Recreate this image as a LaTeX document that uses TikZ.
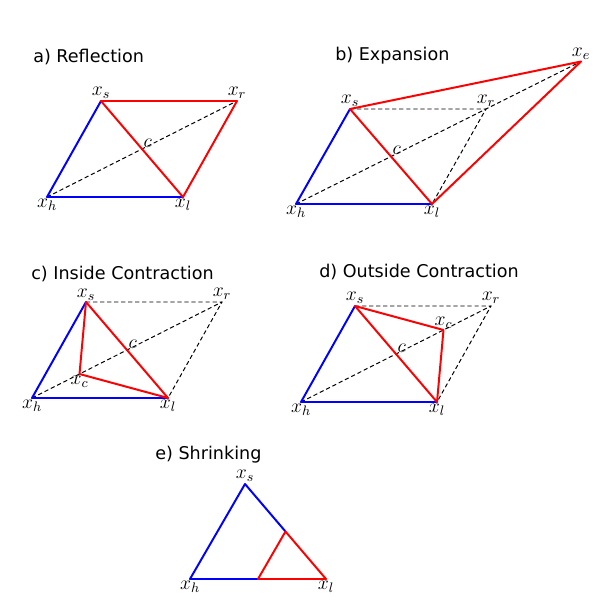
\RequirePackage{fix-cm}
\documentclass[tikz,border=0pt]{standalone}
\usepackage{fontspec}
\newfontfamily\titlefont{DejaVu Sans}
\usepackage{tikz}
\usetikzlibrary{calc}
\tikzstyle{simplex} = [draw=blue, line width=1.4pt, line cap=round, line join=round]
\tikzstyle{trial} = [draw=red, line width=1.4pt, line cap=round, line join=round]
\tikzstyle{aux} = [draw=black, line width=0.7pt, dash pattern=on 3pt off 2pt]
\tikzstyle{pt} = [inner sep=1.5pt, font={\fontsize{14}{16}\selectfont}]
\tikzstyle{caption} = [anchor=west, inner sep=0pt, font={\titlefont\fontsize{12.5}{15}\selectfont}]

\begin{document}
\begin{tikzpicture}[x=0.025cm, y=-0.025cm]
    \useasboundingbox (0,0) rectangle (600,600);
    % a) reflection
    \node[caption](a-t) at (33,57){a) Reflection};
    \coordinate (a-h) at (47,197);
    \coordinate (a-l) at (183,197);
    \coordinate (a-s) at (101,101);
    \coordinate (a-r) at ($(a-s)+(a-l)-(a-h)$);
    \coordinate (a-c) at ($(a-s)!0.5!(a-l)$);
    \draw[aux](a-h)--(a-r);
    \draw[simplex](a-l)--(a-h)--(a-s);
    \draw[trial](a-s)--(a-r)--(a-l)--cycle;
    \node[pt,above](a-s-lab) at (a-s){$x_s$};
    \node[pt,above](a-r-lab) at (a-r){$x_r$};
    \node[pt,below](a-h-lab) at (a-h){$x_h$};
    \node[pt,below](a-l-lab) at (a-l){$x_l$};
    \node[pt,above right,inner sep=1pt](a-c-lab) at (a-c){$c$};
    % b) expansion
    \node[caption](b-t) at (335,56){b) Expansion};
    \coordinate (b-h) at (296,204);
    \coordinate (b-l) at (432,204);
    \coordinate (b-s) at (350,109);
    \coordinate (b-r) at ($(b-s)+(b-l)-(b-h)$);
    \coordinate (b-c) at ($(b-s)!0.5!(b-l)$);
    \coordinate (b-e) at ($(b-c)!2!(b-r)$);
    \draw[aux](b-h)--(b-e);
    \draw[aux](b-s)--(b-r)--(b-l);
    \draw[simplex](b-l)--(b-h)--(b-s);
    \draw[trial](b-s)--(b-e)--(b-l)--cycle;
    \node[pt,above](b-s-lab) at (b-s){$x_s$};
    \node[pt,above](b-r-lab) at (b-r){$x_r$};
    \node[pt,above](b-e-lab) at (b-e){$x_e$};
    \node[pt,below](b-h-lab) at (b-h){$x_h$};
    \node[pt,below](b-l-lab) at (b-l){$x_l$};
    \node[pt,above right,inner sep=1pt](b-c-lab) at (b-c){$c$};
    % c) inside contraction
    \node[caption](c-t) at (31,274){c) Inside Contraction};
    \coordinate (c-h) at (32,398);
    \coordinate (c-l) at (168,398);
    \coordinate (c-s) at (86,302);
    \coordinate (c-r) at ($(c-s)+(c-l)-(c-h)$);
    \coordinate (c-c) at ($(c-s)!0.5!(c-l)$);
    \coordinate (c-k) at ($(c-c)!0.5!(c-h)$);
    \draw[aux](c-h)--(c-r);
    \draw[aux](c-s)--(c-r)--(c-l);
    \draw[simplex](c-l)--(c-h)--(c-s);
    \draw[trial](c-s)--(c-l)--(c-k)--cycle;
    \node[pt,above,inner sep=1pt](c-s-lab) at (c-s){$x_s$};
    \node[pt,above](c-r-lab) at (c-r){$x_r$};
    \node[pt,below](c-h-lab) at (c-h){$x_h$};
    \node[pt,below](c-l-lab) at (c-l){$x_l$};
    \node[pt,below,inner sep=1pt](c-k-lab) at (c-k){$x_c$};
    \node[pt,above right,inner sep=1pt](c-c-lab) at (c-c){$c$};
    % d) outside contraction
    \node[caption](d-t) at (319,272){d) Outside Contraction};
    \coordinate (d-h) at (301,402);
    \coordinate (d-l) at (437,402);
    \coordinate (d-s) at (355,306);
    \coordinate (d-r) at ($(d-s)+(d-l)-(d-h)$);
    \coordinate (d-c) at ($(d-s)!0.5!(d-l)$);
    \coordinate (d-k) at ($(d-c)!0.5!(d-r)$);
    \draw[aux](d-h)--(d-r);
    \draw[aux](d-s)--(d-r)--(d-l);
    \draw[simplex](d-l)--(d-h)--(d-s);
    \draw[trial](d-s)--(d-l)--(d-k)--cycle;
    \node[pt,above](d-s-lab) at (d-s){$x_s$};
    \node[pt,above](d-r-lab) at (d-r){$x_r$};
    \node[pt,below](d-h-lab) at (d-h){$x_h$};
    \node[pt,below](d-l-lab) at (d-l){$x_l$};
    \node[pt,above,inner sep=1pt](d-k-lab) at (d-k){$x_c$};
    \node[pt,above right,inner sep=1pt](d-c-lab) at (d-c){$c$};
    % e) shrinking
    \node[caption](e-t) at (155,455){e) Shrinking};
    \coordinate (e-h) at (190,579);
    \coordinate (e-l) at (326,579);
    \coordinate (e-s) at (245,484);
    \coordinate (e-m) at ($(e-s)!0.5!(e-l)$);
    \coordinate (e-n) at ($(e-h)!0.5!(e-l)$);
    \draw[simplex](e-n)--(e-h)--(e-s)--(e-m);
    \draw[trial](e-m)--(e-l)--(e-n)--cycle;
    \node[pt,above](e-s-lab) at (e-s){$x_s$};
    \node[pt,below](e-h-lab) at (e-h){$x_h$};
    \node[pt,below](e-l-lab) at (e-l){$x_l$};
  \end{tikzpicture}
\end{document}
